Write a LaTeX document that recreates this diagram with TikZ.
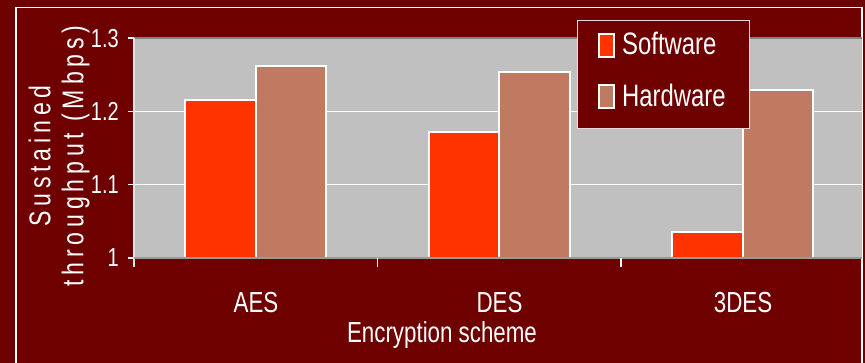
\documentclass[tikz,border=0pt]{standalone}
\usepackage{fontspec}
\setmainfont{Liberation Sans}[FakeStretch=0.77]
\newfontfamily\ytitlefont{Liberation Sans}[FakeStretch=0.77,LetterSpace=16]
\definecolor{bgred}{RGB}{110,0,0}
\definecolor{swbar}{RGB}{255,51,0}
\definecolor{hwbar}{RGB}{192,122,98}
\definecolor{plotgray}{RGB}{192,192,192}
\begin{document}
\begin{tikzpicture}[x=1pt,y=-1pt,
		% alle Beschriftungen weiss, schmal
		lbl/.style={text=white,inner sep=0pt,font=\fontsize{29}{29}\selectfont},
		ticklbl/.style={lbl,anchor=east,font=\fontsize{26}{26}\selectfont},
		bar/.style={draw=white,line width=2pt},
		grid/.style={draw=white,line width=1.2pt}
		]
		\useasboundingbox (0,0) rectangle (865,363);
		\fill[bgred] (0,0) rectangle (865,363);
		\draw[white,line width=1.5pt] (16,363) -- (16,7.5) -- (862,7.5) -- (862,363);

		% Diagrammflaeche, y in Werten ab 1.0
		\begin{scope}[shift={(0,258)},y=733pt]
			\fill[plotgray] (134,0) rectangle (862,0.3);
			\draw[gray,line width=2pt] (134,0.3) -- (862,0.3);
			\foreach \v in {0.1,0.2}
				\draw[grid] (128,\v) -- (862,\v);
			\draw[grid] (128,0.3) -- (134,0.3);
			\draw[grid] (128,0) -- (134,0);

			\foreach \c/\sw/\hw [count=\i from 0] in {AES/1.216/1.262,DES/1.172/1.254,3DES/1.036/1.229}{
				\draw[bar,fill=swbar] (185+243.5*\i,0) rectangle ++(70.5,\sw-1);
				\draw[bar,fill=hwbar] (255.5+243.5*\i,0) rectangle ++(70.5,\hw-1);
				\node[lbl,anchor=base] (cat-\i) at (256+243.5*\i,-0.075) {\c};
			}

			\draw[white!80!gray,line width=1.5pt] (134,0.3) -- (134,-0.012);
			\draw[gray!80!white,line width=2pt] (134,0) -- (862,0);
			\foreach \x in {377.5,621}
				\draw[white,line width=1.2pt] (\x,0) -- (\x,-0.012);

			\foreach \v/\t in {0/1,0.1/1.1,0.2/1.2,0.3/1.3}
				\node[ticklbl] (tick-\t) at (119,\v) {\t};
		\end{scope}

		\node[lbl,rotate=90,align=center,font=\fontsize{30}{33}\selectfont\ytitlefont] (ytitle) at (59,156) {Sustained\\throughput (Mbps)};
		\node[lbl,anchor=base] (xtitle) at (442,343) {Encryption scheme};

		% Legende
		\draw[white!85!bgred,line width=0.8pt,fill=bgred] (577,20) rectangle (749,128);
		\draw[bar,line width=1.6pt,fill=swbar] (599,34) rectangle (614,57);
		\draw[bar,line width=1.6pt,fill=hwbar] (599,85) rectangle (614,108);
		\node[lbl,anchor=base west,font=\fontsize{31}{31}\selectfont] (leg-sw) at (622,55) {Software};
		\node[lbl,anchor=base west,font=\fontsize{31}{31}\selectfont] (leg-hw) at (622,107) {Hardware};
	\end{tikzpicture}
\end{document}
